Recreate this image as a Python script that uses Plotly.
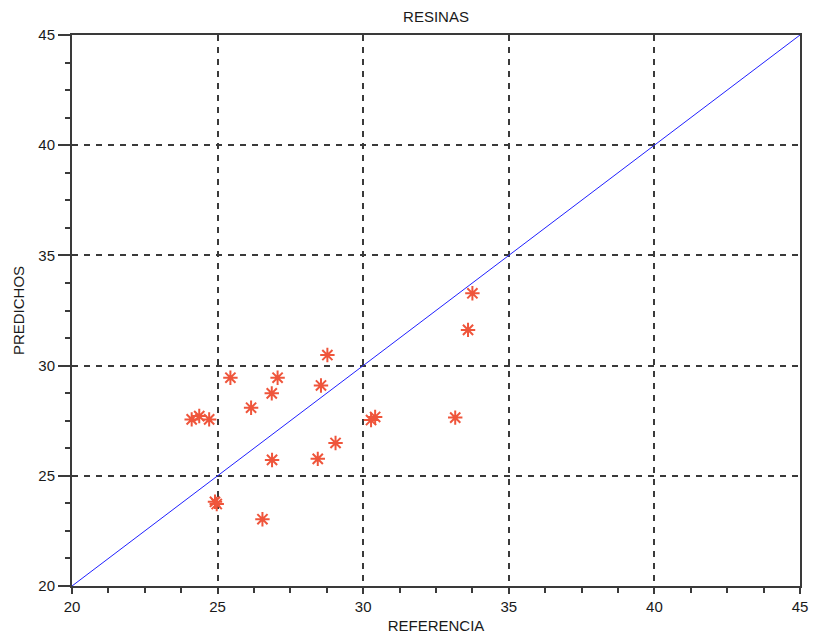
import plotly.graph_objects as go

# Reference vs. predicted resin values
referencia = [24.11, 24.37, 24.71, 25.44, 26.15, 26.86, 27.06, 28.77, 28.55, 26.87,
              28.44, 29.05, 24.91, 24.97, 26.54, 30.27, 30.41, 33.16, 33.60, 33.75]
predichos = [27.56, 27.71, 27.56, 29.45, 28.09, 28.74, 29.45, 30.48, 29.10, 25.72,
             25.77, 26.49, 23.82, 23.72, 23.03, 27.53, 27.67, 27.64, 31.62, 33.28]

# Identity line
ideal_x = [20, 45]
ideal_y = [20, 45]

tick_vals = [20, 25, 30, 35, 40, 45]
tick_text = ["20", "25", "30", "35", "40", "45"]

font_family = "Liberation Sans, Arial, sans-serif"
axis_col = "#3a3a3a"
text_col = "#1a1a1a"

fig = go.Figure()
fig.add_trace(go.Scatter(
    x=ideal_x, y=ideal_y, mode="lines",
    line=dict(color="#2020ff", width=1),
    hoverinfo="skip", showlegend=False,
))
fig.add_trace(go.Scatter(
    x=referencia, y=predichos, mode="markers",
    marker=dict(symbol="asterisk-open", size=12,
                line=dict(color="#ff0000", width=2)),
    showlegend=False,
))

common = dict(
    range=[20, 45], tickvals=tick_vals, ticktext=tick_text,
    showline=True, linecolor=axis_col, linewidth=2, mirror=True,
    showgrid=True, gridcolor=axis_col, gridwidth=1.5, griddash="6px,6px",
    zeroline=False, ticks="outside", tickcolor=axis_col, tickwidth=1.5,
    tickfont=dict(family=font_family, size=15, color=text_col),
    minor=dict(dtick=1.25, ticks="outside", ticklen=5, tickcolor=axis_col,
               tickwidth=1.5, showgrid=False),
)

fig.update_xaxes(**common, ticklen=6,
                 title=dict(text="REFERENCIA", standoff=6,
                            font=dict(family=font_family, size=15, color=text_col)))
fig.update_yaxes(**common, ticklen=12,
                 title=dict(text="PREDICHOS", standoff=10,
                            font=dict(family=font_family, size=15, color=text_col)))

fig.update_layout(
    width=813, height=640,
    margin=dict(l=72, r=13, t=35, b=54, autoexpand=False),
    plot_bgcolor="white", paper_bgcolor="white",
    title=dict(text="RESINAS", x=436 / 813, xanchor="center",
               y=1 - 17 / 640, yanchor="middle", yref="container",
               font=dict(family=font_family, size=15, color=text_col)),
)

fig.write_html("out.html")
